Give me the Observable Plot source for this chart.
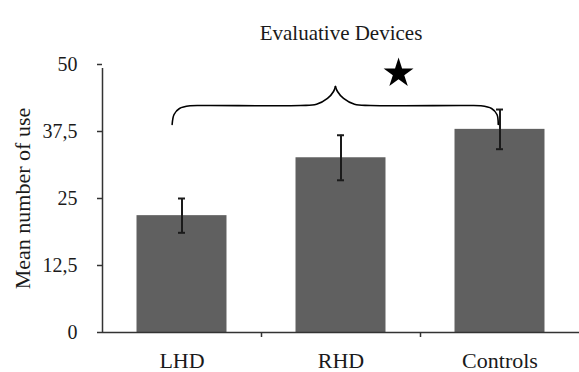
<!DOCTYPE html>
<html><head><meta charset="utf-8">
<script src="https://cdn.jsdelivr.net/npm/d3@7"></script>
<script src="https://cdn.jsdelivr.net/npm/@observablehq/plot@0.6"></script>
<style>body{margin:0;background:#fff}</style>
</head><body><div id="chart"></div>
<script>
const categories = ["LHD", "RHD", "Controls"];
const means = [21.8, 32.6, 37.9];
const errors = [3.2, 4.2, 3.7];
const yTicks = [0, 12.5, 25, 37.5, 50];
const title = "Evaluative Devices";
const yLabel = "Mean number of use";

// significance brace annotation (x in category-index units, y in value units)
const braceLeftX = [0.438, 0.450, 0.484, 0.553, 0.648, 1.245, 1.346, 1.415, 1.453, 1.465];
const braceLeftY = [38.81, 40.67, 41.79, 42.30, 42.35, 42.35, 42.57, 43.66, 44.96, 45.90];
const braceRightX = [1.465, 1.478, 1.516, 1.585, 1.686, 2.283, 2.377, 2.447, 2.481, 2.489];
const braceRightY = [45.90, 44.96, 43.66, 42.57, 42.35, 42.35, 42.30, 41.79, 40.67, 38.81];
const starX = 1.862, starY = 48.36;

const data = categories.map((c, i) => ({c, i, mean: means[i], err: errors[i]}));
const brace = [
  ...braceLeftX.map((x, k) => ({x, y: braceLeftY[k], side: "L"})),
  ...braceRightX.map((x, k) => ({x, y: braceRightY[k], side: "R"}))
];
const halfBar = 0.283, capHalf = 0.022;
const fmt = d => String(d).replace(".", ",");

const plot = Plot.plot({
  width: 579, height: 372,
  marginLeft: 102, marginRight: 0, marginTop: 64, marginBottom: 40,
  style: {fontFamily: "'Liberation Serif', 'Times New Roman', serif", background: "white", color: "#1a1a1a"},
  x: {domain: [0, 3], axis: null},
  y: {domain: [0, 50], axis: null},
  marks: [
    Plot.rectY(data, {x1: d => d.i + 0.5 - halfBar, x2: d => d.i + 0.5 + halfBar, y: "mean", fill: "#606060"}),
    Plot.ruleX(data, {x: d => d.i + 0.5, y1: d => d.mean - d.err, y2: d => d.mean + d.err, stroke: "#1a1a1a", strokeWidth: 2}),
    Plot.ruleY(data, {x1: d => d.i + 0.5 - capHalf, x2: d => d.i + 0.5 + capHalf, y: d => d.mean + d.err, stroke: "#1a1a1a", strokeWidth: 2}),
    Plot.ruleY(data, {x1: d => d.i + 0.5 - capHalf, x2: d => d.i + 0.5 + capHalf, y: d => d.mean - d.err, stroke: "#1a1a1a", strokeWidth: 2}),
    Plot.ruleY([0], {stroke: "#333", strokeWidth: 1.5}),
    Plot.ruleX([0], {y1: 0, y2: 50, insetBottom: -4, stroke: "#333", strokeWidth: 1.5}),
    Plot.axisY({ticks: yTicks, tickSize: 5, tickPadding: 20, tickFormat: fmt, fontSize: 20, label: null, stroke: "#333", strokeWidth: 1.5}),
    Plot.axisX({ticks: [1, 2], tickSize: 5, tickFormat: () => "", label: null, stroke: "#333", strokeWidth: 1.5}),
    Plot.axisX({ticks: [0.5, 1.5, 2.5], tickSize: 0, tickPadding: 20, tickFormat: d => categories[Math.floor(d)], label: null, fontSize: 22}),
    Plot.line(brace, {x: "x", y: "y", z: "side", curve: "catmull-rom", stroke: "black", strokeWidth: 1.6}),
    Plot.dot([0], {x: () => starX, y: () => starY, symbol: "star", r: 9.4, fill: "black", stroke: null}),
    Plot.text([title], {frameAnchor: "top", dy: -39, fontSize: 21, fill: "#1a1a1a"}),
    Plot.text([yLabel], {x: () => 0, y: () => 25, dx: -80, rotate: -90, fontSize: 22, fill: "#1a1a1a"})
  ]
});
document.getElementById("chart").appendChild(plot);
</script>
</body></html>
